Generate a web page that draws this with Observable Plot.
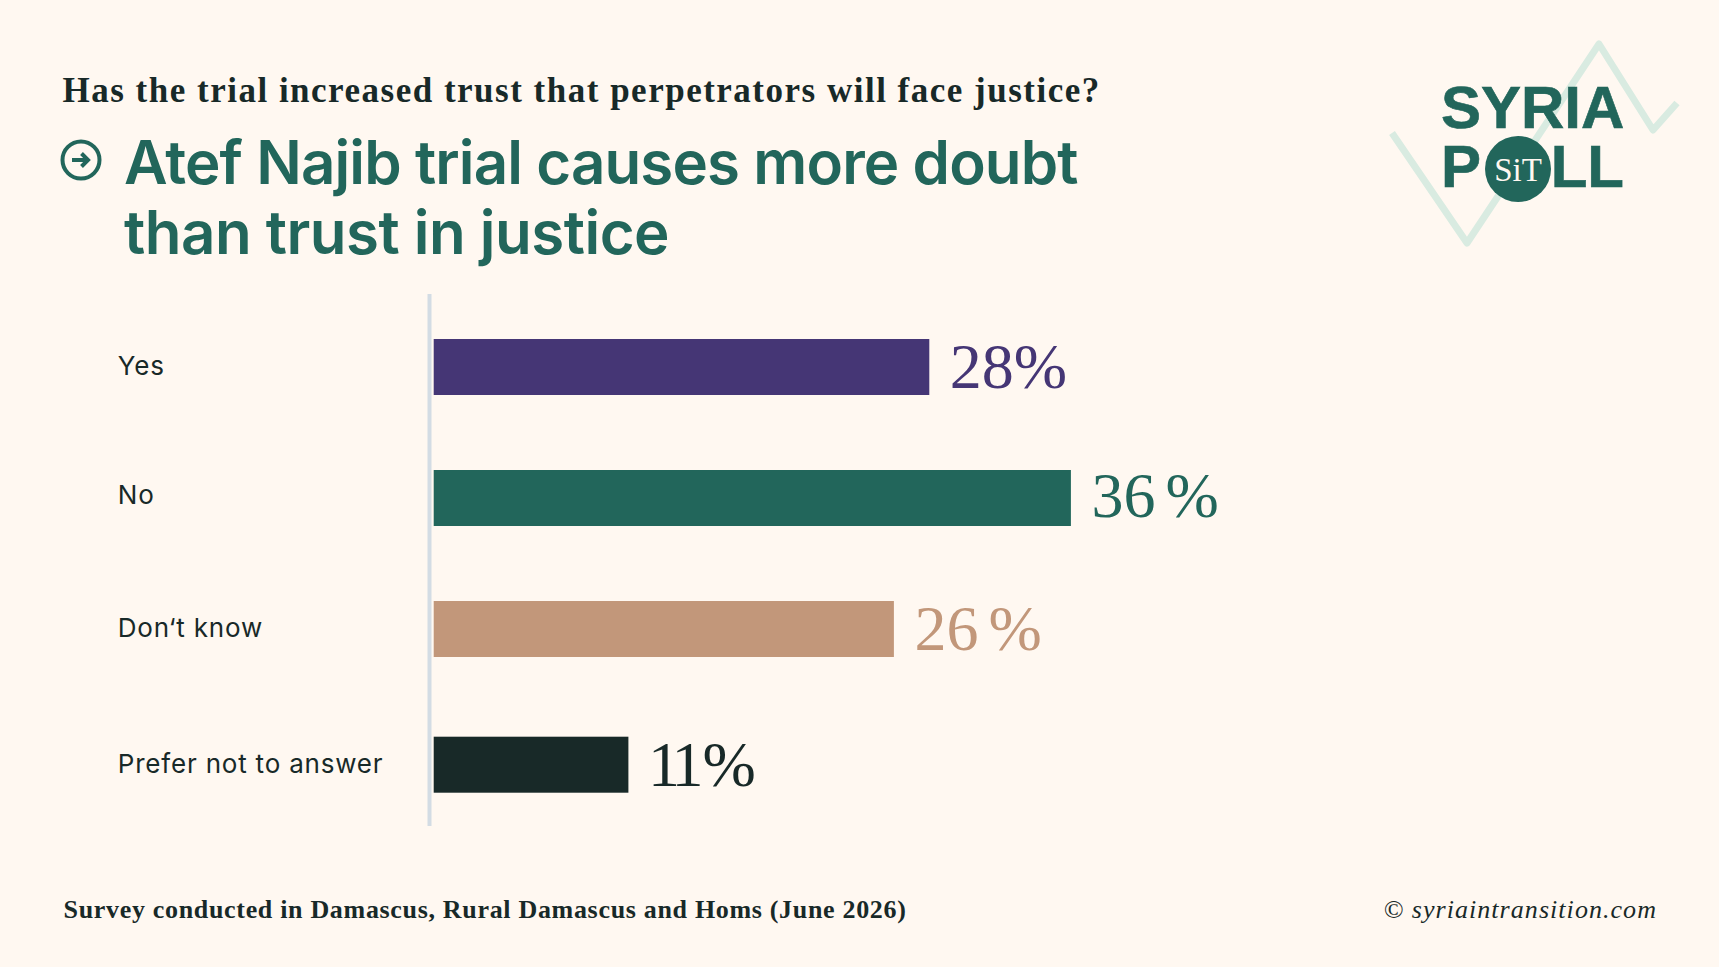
<!DOCTYPE html>
<html><head><meta charset="utf-8">
<script src="https://cdn.jsdelivr.net/npm/d3@7"></script>
<script src="https://cdn.jsdelivr.net/npm/@observablehq/plot@0.6"></script>
<style>
html,body{margin:0;padding:0;background:#fff8f1;width:1719px;height:967px;overflow:hidden}
#page{position:relative;width:1719px;height:967px;background:#fff8f1}
.abs{position:absolute;white-space:nowrap;margin:0}
#question{left:62.5px;top:69px;font:700 35px/44px "Liberation Serif",serif;letter-spacing:1.5px;color:#182928}
#title{left:124px;top:127px;font:600 60px/70px Inter,sans-serif;letter-spacing:-.88px;color:#22665b}
#title span{display:block}
#title span+span{letter-spacing:-.5px}
#icon,#logo{position:absolute}
#chart{position:absolute;left:0;top:294px}
.foot{top:892px;font:26px/36px "Liberation Serif",serif;color:#182928}
#source{left:63.5px;font-weight:700;letter-spacing:.68px}
#credit{right:62px;font-style:italic;letter-spacing:1.05px}
[aria-label="y-axis tick label"]{letter-spacing:.8px}
.value{word-spacing:-6px}
.value-narrow{word-spacing:-5px;letter-spacing:-6px}
</style></head><body>
<div id="page">
<p id="question" class="abs">Has the trial increased trust that perpetrators will face justice?</p>
<svg id="icon" style="left:60px;top:139px" width="42" height="42" viewBox="0 0 42 42">
<circle cx="21" cy="21" r="18.5" fill="none" stroke="#22665b" stroke-width="4"/>
<path d="M12 21H27M21.5 14.5L28 21L21.5 27.5" fill="none" stroke="#22665b" stroke-width="4"/>
</svg>
<h1 id="title" class="abs"><span>Atef Najib trial causes more doubt</span><span>than trust in justice</span></h1>
<div id="chart"></div>
<svg id="logo" style="left:1380px;top:30px" width="310" height="230" viewBox="1380 30 310 230">
<path d="M1392 133L1467 243L1599 44L1653 130L1677 103" fill="none" stroke="#d9ebe1" stroke-width="7" stroke-linejoin="round"/>
<g fill="#22665b" stroke="#22665b" stroke-width=".6" font-family="Liberation Sans" font-weight="700" font-size="60">
<text x="1441" y="128">SYRIA</text>
<text x="1441" y="187">P</text>
<text x="1624" y="187" text-anchor="end">LL</text>
</g>
<circle cx="1518" cy="169" r="33" fill="#22665b"/>
<text x="1518" y="181" text-anchor="middle" fill="#fff8f1" font-family="Liberation Serif" font-size="33">SiT</text>
</svg>
<p id="source" class="abs foot">Survey conducted in Damascus, Rural Damascus and Homs (June 2026)</p>
<p id="credit" class="abs foot">© syriaintransition.com</p>
</div>
<script>
const categories = ["Yes", "No", "Don‘t know", "Prefer not to answer"];
const percents = [28, 36, 26, 11];
const valueLabels = ["28%", "36 %", "26 %", "11 %"];
const barColors = ["#453675", "#22665b", "#c2977a", "#182928"];
const rowNudge = [0, 0, 0, 4.7];
const labelNudge = [-1.3, -3, -1, -0.7];
const valueNudge = [0, -2, 0.5, 0];
const valueGap = [20, 20, 20, 19];

const rows = categories.map((category, i) => ({category, percent: percents[i], label: valueLabels[i], color: barColors[i]}));
const chart = Plot.plot({
  width: 1719, height: 532,
  marginLeft: 433.7, marginRight: 0, marginTop: 0, marginBottom: 0,
  style: {background: "transparent", overflow: "visible"},
  x: {domain: [0, 40], range: [433.7, 1141.7], axis: null},
  y: {domain: categories, range: [7.5, 531.5], paddingInner: 0.576, paddingOuter: 0.288, axis: null},
  marks: [
    Plot.ruleX([0], {stroke: "#d3dce4", strokeWidth: 4, dx: -4.7}),
    ...rows.flatMap((r, i) => [
      Plot.barX([r], {x: "percent", y: "category", fill: "color", dy: rowNudge[i]}),
      Plot.axisY({anchor: "left", ticks: [r.category], tickSize: 0, tickPadding: 316.4, textAnchor: "start",
                  fontSize: 26, fontFamily: "Inter", fill: "#182928", label: null, dy: labelNudge[i] + rowNudge[i]}),
      Plot.text([r], {x: "percent", y: "category", text: "label", fill: "color", textAnchor: "start", dx: valueGap[i],
                      dy: valueNudge[i] + rowNudge[i], fontSize: 64, fontFamily: "Liberation Serif",
                      className: i === 3 ? "value-narrow" : "value"})
    ])
  ]
});
document.getElementById("chart").append(chart);
</script>
</body></html>
